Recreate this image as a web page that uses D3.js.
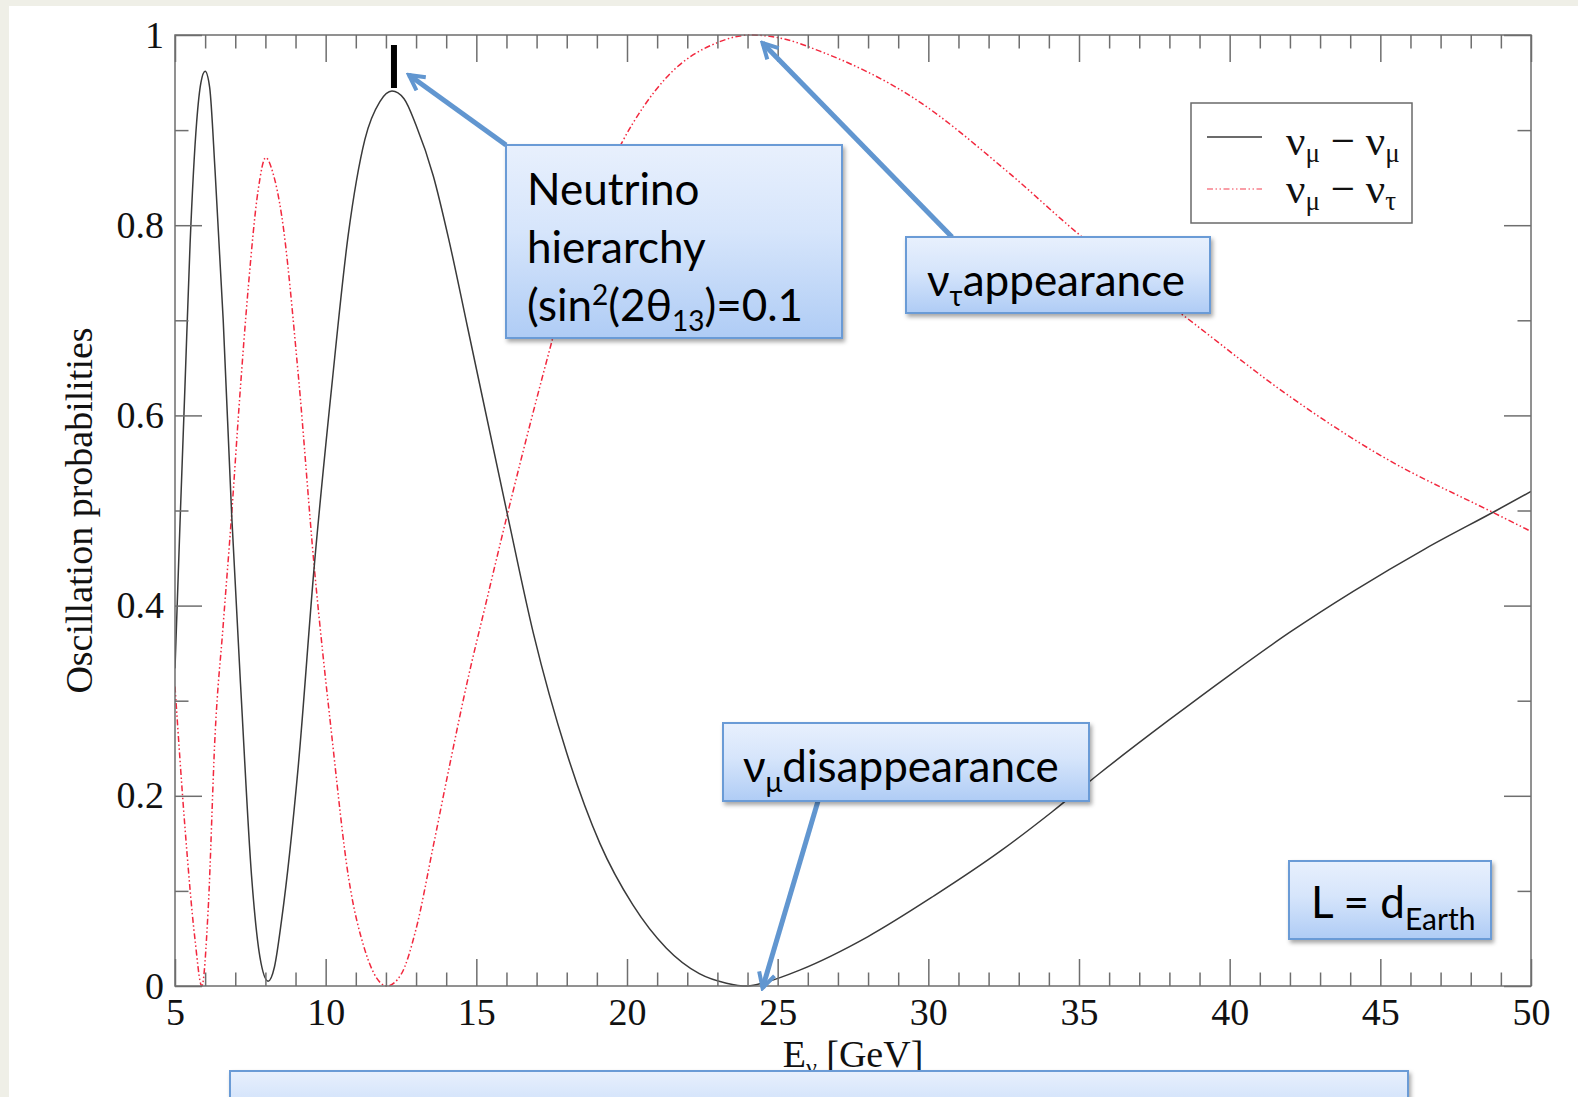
<!DOCTYPE html>
<html>
<head>
<meta charset="utf-8">
<script src="https://cdn.jsdelivr.net/npm/d3@7"></script>
<style>
  html, body { margin: 0; padding: 0; background: #efefe7; }
  svg { display: block; }
</style>
</head>
<body>
<svg id="chart" width="1578" height="1097"></svg>
<script>
// Muon-neutrino survival probability P(nu_mu -> nu_mu) versus energy
const energyMuMu = [5.0, 5.17, 5.33, 5.5, 5.72, 5.86, 6.0, 6.15, 6.33, 6.6, 6.88, 7.21, 7.54, 7.82, 8.09, 8.3, 8.54, 9.09, 9.62, 10.2, 10.75, 11.3, 11.8, 12.2, 12.6, 13.0, 13.57, 14.1, 14.7, 16.03, 16.9, 18.0, 19.1, 20.2, 21.3, 22.4, 23.3, 24.0, 24.6, 25.75, 28.0, 30.2, 32.4, 34.1, 35.7, 38.0, 40.0, 42.0, 44.1, 46.5, 48.85, 50.0];
const probMuMu   = [0.334, 0.49, 0.63, 0.78, 0.909, 0.95, 0.962, 0.945, 0.857, 0.70, 0.496, 0.297, 0.116, 0.03, 0.005, 0.02, 0.07, 0.231, 0.441, 0.63, 0.79, 0.89, 0.93, 0.941, 0.933, 0.905, 0.852, 0.783, 0.694, 0.496, 0.37, 0.245, 0.15, 0.085, 0.04, 0.013, 0.003, 0.0, 0.004, 0.017, 0.052, 0.095, 0.142, 0.183, 0.224, 0.28, 0.327, 0.372, 0.415, 0.46, 0.50, 0.52];

// Tau appearance probability P(nu_mu -> nu_tau) versus energy
const energyMuTau = [5.0, 5.33, 5.66, 5.89, 6.1, 6.33, 6.6, 6.88, 7.15, 7.43, 7.76, 8.01, 8.25, 8.54, 9.09, 9.62, 10.2, 10.75, 11.3, 11.7, 12.03, 12.5, 13.0, 13.57, 14.1, 14.7, 15.3, 16.03, 16.9, 17.5, 18.6, 19.8, 21.3, 23.0, 24.1, 25.2, 26.4, 29.5, 32.6, 34.9, 38.8, 41.9, 45.0, 48.8, 50.0];
const probMuTau   = [0.315, 0.167, 0.05, 0.0, 0.08, 0.264, 0.38, 0.496, 0.62, 0.734, 0.837, 0.871, 0.855, 0.81, 0.643, 0.441, 0.264, 0.116, 0.038, 0.008, 0.0, 0.012, 0.06, 0.147, 0.23, 0.32, 0.40, 0.496, 0.605, 0.677, 0.80, 0.885, 0.955, 0.992, 1.0, 0.996, 0.983, 0.934, 0.857, 0.793, 0.697, 0.622, 0.558, 0.497, 0.478];

// Axis ticks
const xMajorTicks = [5, 10, 15, 20, 25, 30, 35, 40, 45, 50];
const xTickLabels = ["5", "10", "15", "20", "25", "30", "35", "40", "45", "50"];
const yMajorTicks = [0, 0.2, 0.4, 0.6, 0.8, 1];
const yTickLabels = ["0", "0.2", "0.4", "0.6", "0.8", "1"];
const xMinorTicks = d3.range(5, 51, 1).filter(v => v % 5 !== 0);
const yMinorTicks = [0.1, 0.3, 0.5, 0.7, 0.9];

const svg = d3.select("#chart");
const W = 1578, H = 1097;
const plot = { left: 175, right: 1531, top: 35, bottom: 986 };

const x = d3.scaleLinear().domain([5, 50]).range([plot.left, plot.right]);
const y = d3.scaleLinear().domain([0, 1]).range([plot.bottom, plot.top]);

const defs = svg.append("defs");
const grad = defs.append("linearGradient").attr("id", "boxFill")
  .attr("x1", 0).attr("y1", 0).attr("x2", 0).attr("y2", 1);
grad.append("stop").attr("offset", "0%").attr("stop-color", "#e8f0fd");
grad.append("stop").attr("offset", "45%").attr("stop-color", "#d6e5fb");
grad.append("stop").attr("offset", "100%").attr("stop-color", "#afccf5");

const shadow = defs.append("filter").attr("id", "shadow")
  .attr("x", "-10%").attr("y", "-10%").attr("width", "130%").attr("height", "140%");
shadow.append("feDropShadow").attr("dx", 2).attr("dy", 3).attr("stdDeviation", 2.2)
  .attr("flood-color", "#000").attr("flood-opacity", 0.35);

defs.append("clipPath").attr("id", "plotClip").append("rect")
  .attr("x", plot.left).attr("y", plot.top - 2)
  .attr("width", plot.right - plot.left).attr("height", plot.bottom - plot.top + 4);

defs.append("marker").attr("id", "arrowHead")
  .attr("viewBox", "0 0 20 20").attr("refX", 17).attr("refY", 10)
  .attr("markerWidth", 20).attr("markerHeight", 20)
  .attr("markerUnits", "userSpaceOnUse").attr("orient", "auto")
  .append("path").attr("d", "M2,2 L17,10 L2,18")
  .attr("fill", "none").attr("stroke", "#6196d0").attr("stroke-width", 4)
  .attr("stroke-linejoin", "miter");

// page background and white slide panel
svg.append("rect").attr("width", W).attr("height", H).attr("fill", "#efefe7");
svg.append("rect").attr("x", 9).attr("y", 6).attr("width", W - 9).attr("height", H - 6).attr("fill", "#ffffff");

// curves
const lineGen = d3.line().x(d => x(d[0])).y(d => y(d[1])).curve(d3.curveMonotoneX);
const muMuData = energyMuMu.map((e, i) => [e, probMuMu[i]]);
const muTauData = energyMuTau.map((e, i) => [e, probMuTau[i]]);

const curves = svg.append("g").attr("clip-path", "url(#plotClip)");
curves.append("path").datum(muTauData).attr("d", lineGen)
  .attr("fill", "none").attr("stroke", "#f2283e").attr("stroke-width", 1.5)
  .attr("stroke-dasharray", "6 2.5 1.5 2.5 1.5 2.5");
curves.append("path").datum(muMuData).attr("d", lineGen)
  .attr("fill", "none").attr("stroke", "#3a3a3a").attr("stroke-width", 1.5);

// axes: ticks drawn inward on all four sides
const axisColor = "#6e6e6e";
function styleAxis(g) {
  g.select(".domain").remove();
  g.selectAll(".tick line").attr("stroke", axisColor).attr("stroke-width", 1.5);
}
const tickFont = "'Liberation Serif', 'Times New Roman', serif";
const MAJ = 27, MIN = 13.5;

svg.append("g").attr("transform", `translate(0,${plot.bottom})`)
  .call(d3.axisBottom(x).tickValues(xMajorTicks).tickSize(-MAJ).tickPadding(12)
    .tickFormat((d, i) => xTickLabels[i]))
  .call(styleAxis)
  .call(g => g.selectAll("text").attr("font-family", tickFont).attr("font-size", 38).attr("fill", "#111"));
svg.append("g").attr("transform", `translate(0,${plot.bottom})`)
  .call(d3.axisBottom(x).tickValues(xMinorTicks).tickSize(-MIN).tickFormat(""))
  .call(styleAxis);
svg.append("g").attr("transform", `translate(0,${plot.top})`)
  .call(d3.axisTop(x).tickValues(xMajorTicks).tickSize(-MAJ).tickFormat(""))
  .call(styleAxis);
svg.append("g").attr("transform", `translate(0,${plot.top})`)
  .call(d3.axisTop(x).tickValues(xMinorTicks).tickSize(-MIN).tickFormat(""))
  .call(styleAxis);

svg.append("g").attr("transform", `translate(${plot.left},0)`)
  .call(d3.axisLeft(y).tickValues(yMajorTicks).tickSize(-MAJ).tickPadding(11)
    .tickFormat((d, i) => yTickLabels[i]))
  .call(styleAxis)
  .call(g => g.selectAll("text").attr("font-family", tickFont).attr("font-size", 38).attr("fill", "#111"));
svg.append("g").attr("transform", `translate(${plot.left},0)`)
  .call(d3.axisLeft(y).tickValues(yMinorTicks).tickSize(-MIN).tickFormat(""))
  .call(styleAxis);
svg.append("g").attr("transform", `translate(${plot.right},0)`)
  .call(d3.axisRight(y).tickValues(yMajorTicks).tickSize(-MAJ).tickFormat(""))
  .call(styleAxis);
svg.append("g").attr("transform", `translate(${plot.right},0)`)
  .call(d3.axisRight(y).tickValues(yMinorTicks).tickSize(-MIN).tickFormat(""))
  .call(styleAxis);

// frame
svg.append("rect").attr("x", plot.left).attr("y", plot.top)
  .attr("width", plot.right - plot.left).attr("height", plot.bottom - plot.top)
  .attr("fill", "none").attr("stroke", axisColor).attr("stroke-width", 1.5);

// axis titles
svg.append("text")
  .attr("transform", `translate(92,${(plot.top + plot.bottom) / 2}) rotate(-90)`)
  .attr("text-anchor", "middle").attr("font-family", tickFont).attr("font-size", 38).attr("fill", "#111")
  .text("Oscillation probabilities");

const xTitle = svg.append("text")
  .attr("x", (plot.left + plot.right) / 2).attr("y", 1067)
  .attr("text-anchor", "middle").attr("font-family", tickFont).attr("font-size", 38).attr("fill", "#111");
xTitle.append("tspan").text("E");
xTitle.append("tspan").attr("font-size", 24).attr("dy", 8).text("ν");
xTitle.append("tspan").attr("dy", -8).text(" [GeV]");

// legend
const legend = svg.append("g");
legend.append("rect").attr("x", 1191).attr("y", 103).attr("width", 221).attr("height", 120)
  .attr("fill", "#fff").attr("stroke", "#6a6a6a").attr("stroke-width", 1.5);
const legendRows = [
  { y: 137, base: 155, color: "#3a3a3a", dash: null, sub2: "μ", op: 1 },
  { y: 189, base: 203, color: "#f2283e", dash: "6 2.5 1.5 2.5 1.5 2.5", sub2: "τ", op: 0.6 }
];
legendRows.forEach(r => {
  legend.append("line").attr("x1", 1207).attr("x2", 1262).attr("y1", r.y).attr("y2", r.y)
    .attr("stroke", r.color).attr("stroke-width", 1.5).attr("stroke-opacity", r.op)
    .attr("stroke-dasharray", r.dash);
  const t = legend.append("text").attr("x", 1286).attr("y", r.base)
    .attr("font-family", tickFont).attr("font-size", 43).attr("fill", "#111");
  t.append("tspan").text("ν");
  t.append("tspan").attr("font-size", 27).attr("dy", 7).text("μ");
  t.append("tspan").attr("dy", -7).text(" − ν");
  t.append("tspan").attr("font-size", 27).attr("dy", 7).text(r.sub2);
});

// annotation arrows (tips point at curve features)
const arrowColor = "#6196d0";
const arrows = [
  { from: [506, 145], to: [x(12.2) + 17, y(0.94) - 17] },
  { from: [952, 237], to: [x(24.1) + 12, y(1.0) + 8] },
  { from: [818, 801], to: [x(24.1) + 12, y(0.0) + 2] }
];
arrows.forEach(a => {
  svg.append("line").attr("x1", a.from[0]).attr("y1", a.from[1])
    .attr("x2", a.to[0]).attr("y2", a.to[1])
    .attr("stroke", arrowColor).attr("stroke-width", 5)
    .attr("marker-end", "url(#arrowHead)");
});

// small black marker above the second survival maximum
svg.append("rect").attr("x", x(12.2) - 1).attr("y", 45).attr("width", 6).attr("height", 43).attr("fill", "#000");

// annotation boxes
const boxFont = "Lato, 'Open Sans', 'Noto Sans', sans-serif";
function box(x0, y0, x1, y1) {
  svg.append("rect").attr("x", x0).attr("y", y0).attr("width", x1 - x0).attr("height", y1 - y0)
    .attr("fill", "url(#boxFill)").attr("stroke", "#6b9bd6").attr("stroke-width", 2)
    .attr("filter", "url(#shadow)");
}
function boxText(xp, yp, size) {
  return svg.append("text").attr("x", xp).attr("y", yp)
    .attr("font-family", boxFont).attr("font-size", size).attr("fill", "#000");
}

box(506, 145, 842, 338);
boxText(527, 205, 44).text("Neutrino");
boxText(527, 263, 44).text("hierarchy");
const t3 = boxText(527, 321, 44);
t3.append("tspan").text("(sin");
t3.append("tspan").attr("font-size", 28).attr("dy", -16).text("2");
t3.append("tspan").attr("dy", 16).text("(2θ");
t3.append("tspan").attr("font-size", 28).attr("dy", 10).text("13");
t3.append("tspan").attr("dy", -10).text(")=0.1");

box(906, 237, 1210, 313);
const t4 = boxText(927, 296, 44);
t4.append("tspan").text("ν");
t4.append("tspan").attr("font-size", 28).attr("dy", 10).text("τ");
t4.append("tspan").attr("dy", -10).text("appearance");

box(723, 723, 1089, 801);
const t5 = boxText(743, 782, 44);
t5.append("tspan").text("ν");
t5.append("tspan").attr("font-size", 28).attr("dy", 10).text("μ");
t5.append("tspan").attr("dy", -10).text("disappearance");

box(1289, 861, 1491, 939);
const t6 = boxText(1311, 918, 44);
t6.append("tspan").text("L = d");
t6.append("tspan").attr("font-size", 30).attr("dy", 12).text("Earth");

box(230, 1071, 1408, 1130);
</script>
</body>
</html>
